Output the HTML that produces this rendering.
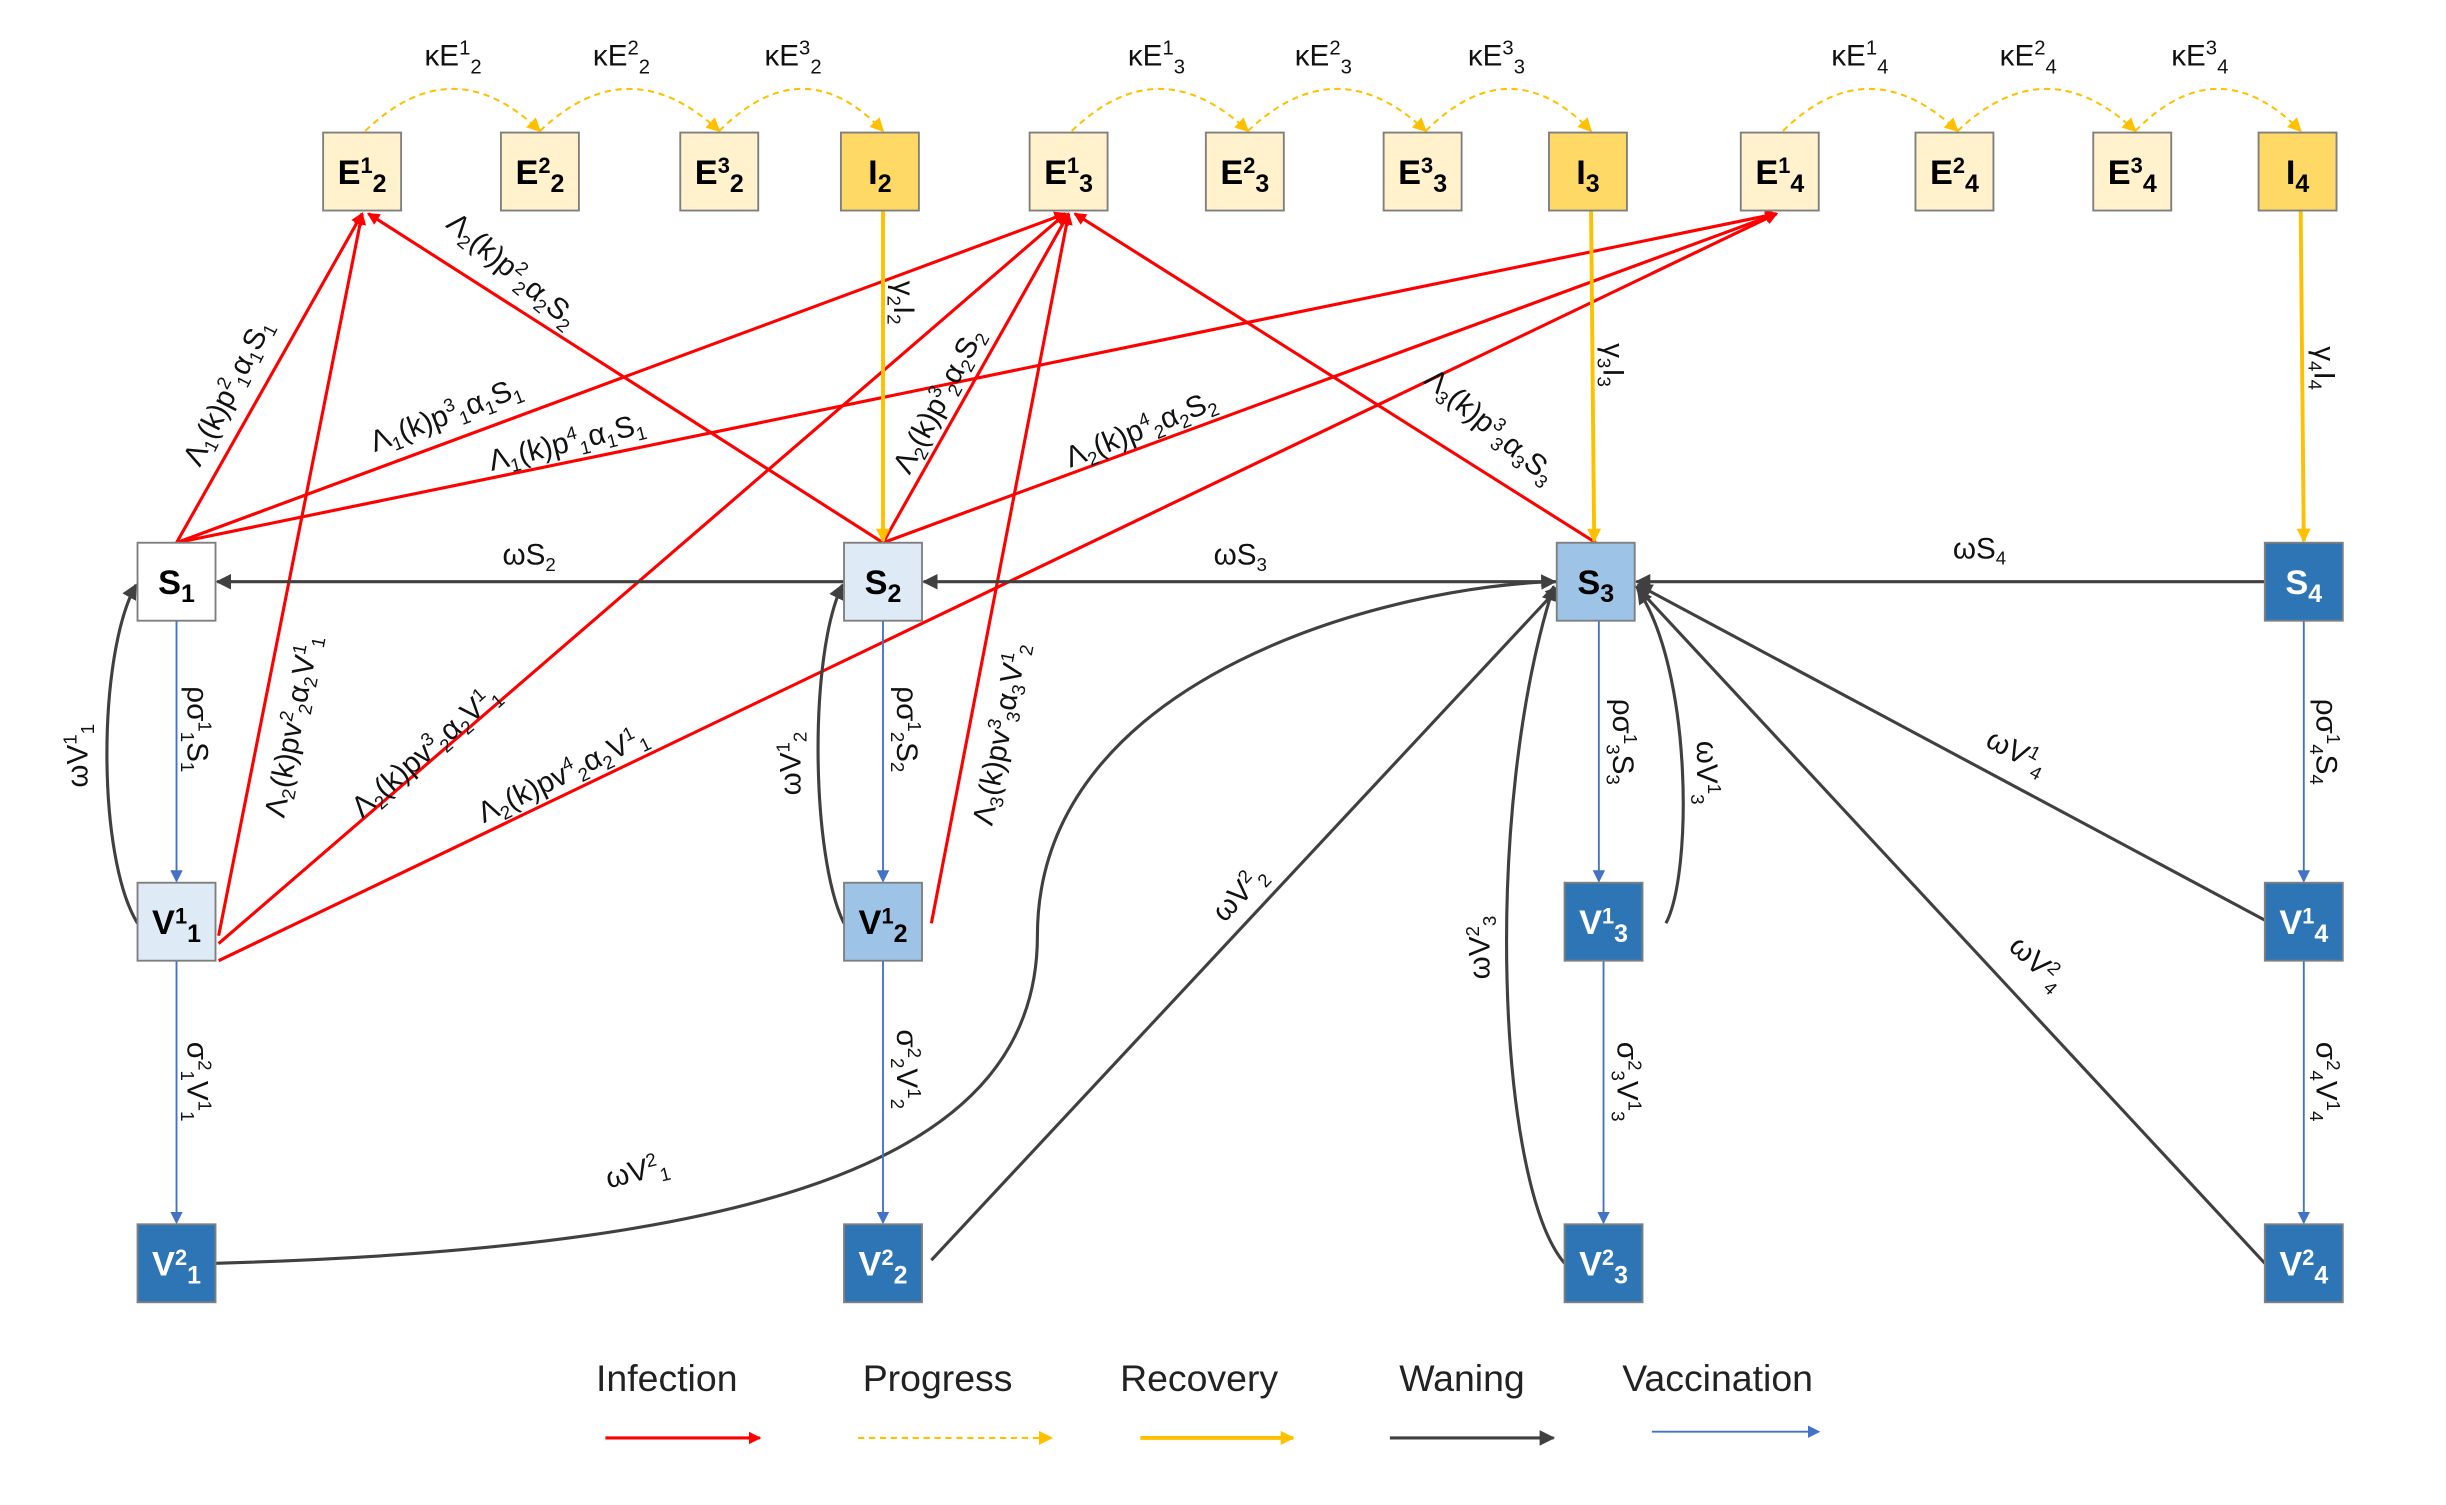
<!DOCTYPE html>
<html><head><meta charset="utf-8"><style>
html,body{margin:0;padding:0;background:#fff}
svg{display:block}
text{font-family:"Liberation Sans",sans-serif}
.bx{stroke:#7f7f7f;stroke-width:1.2}
.bl{font-weight:bold;font-size:22px}
.lab{font-size:19px;fill:#111}
</style></head><body>
<svg width="2446" height="1505" viewBox="0 0 1568 965" xmlns="http://www.w3.org/2000/svg">
<defs>
<marker id="ar" markerWidth="8" markerHeight="8" refX="7" refY="4" orient="auto" markerUnits="userSpaceOnUse" viewBox="0 0 8 8"><path d="M0,0 L8,4 L0,8 z" fill="#f00"/></marker>
<marker id="ay" markerWidth="9" markerHeight="9" refX="8" refY="4.5" orient="auto" markerUnits="userSpaceOnUse"><path d="M0,0 L9,4.5 L0,9 z" fill="#ffc000"/></marker>
<marker id="ag" markerWidth="10" markerHeight="10" refX="9" refY="5" orient="auto" markerUnits="userSpaceOnUse"><path d="M0,0 L10,5 L0,10 z" fill="#404040"/></marker>
<marker id="ab" markerWidth="8" markerHeight="8" refX="7" refY="4" orient="auto" markerUnits="userSpaceOnUse"><path d="M0,0 L8,4 L0,8 z" fill="#4472c4"/></marker>
</defs>

<g fill="none" stroke="#ffc000" stroke-width="1.3" stroke-dasharray="4,3" marker-end="url(#ay)">
<path d="M234,84 Q290,30 346,84"/><path d="M346,84 Q403,30 461,84"/><path d="M461,84 Q515,30 566,84"/>
<path d="M687,84 Q743,30 800,84"/><path d="M800,84 Q857,30 914,84"/><path d="M914,84 Q968,30 1020,84"/>
<path d="M1143,84 Q1198,30 1255,84"/><path d="M1255,84 Q1312,30 1369,84"/><path d="M1369,84 Q1422,30 1475,84"/>
</g>
<g class="lab">
<text x="272" y="42">κE<tspan dy="-7" font-size="13">1</tspan><tspan dy="12" font-size="13">2</tspan></text>
<text x="380" y="42">κE<tspan dy="-7" font-size="13">2</tspan><tspan dy="12" font-size="13">2</tspan></text>
<text x="490" y="42">κE<tspan dy="-7" font-size="13">3</tspan><tspan dy="12" font-size="13">2</tspan></text>
<text x="723" y="42">κE<tspan dy="-7" font-size="13">1</tspan><tspan dy="12" font-size="13">3</tspan></text>
<text x="830" y="42">κE<tspan dy="-7" font-size="13">2</tspan><tspan dy="12" font-size="13">3</tspan></text>
<text x="941" y="42">κE<tspan dy="-7" font-size="13">3</tspan><tspan dy="12" font-size="13">3</tspan></text>
<text x="1174" y="42">κE<tspan dy="-7" font-size="13">1</tspan><tspan dy="12" font-size="13">4</tspan></text>
<text x="1282" y="42">κE<tspan dy="-7" font-size="13">2</tspan><tspan dy="12" font-size="13">4</tspan></text>
<text x="1392" y="42">κE<tspan dy="-7" font-size="13">3</tspan><tspan dy="12" font-size="13">4</tspan></text>
</g>

<g stroke="#f00" stroke-width="2" fill="none" marker-end="url(#ar)">
<line x1="113" y1="348" x2="232" y2="137"/>
<line x1="113" y1="348" x2="683" y2="137"/>
<line x1="113" y1="348" x2="1139" y2="137"/>
<line x1="566" y1="348" x2="236" y2="137"/>
<line x1="566" y1="348" x2="685" y2="137"/>
<line x1="566" y1="348" x2="1139" y2="137"/>
<line x1="1023" y1="348" x2="689" y2="137"/>
<line x1="140" y1="600" x2="232" y2="137"/>
<line x1="140" y1="605" x2="683" y2="137"/>
<line x1="140" y1="616" x2="1139" y2="137"/>
<line x1="597" y1="592" x2="685" y2="137"/>
</g>

<g stroke="#ffc000" stroke-width="2.5" marker-end="url(#ay)">
<line x1="566" y1="135" x2="566" y2="347"/>
<line x1="1020" y1="135" x2="1022" y2="347"/>
<line x1="1475" y1="135" x2="1477" y2="347"/>
</g>

<g stroke="#404040" stroke-width="2" fill="none" marker-end="url(#ag)">
<line x1="541" y1="373" x2="139" y2="373"/>
<line x1="998" y1="373" x2="592" y2="373"/>
<line x1="1452" y1="373" x2="1049" y2="373"/>
<path d="M88,592 C62,550 62,420 87,375"/>
<path d="M541,592 C520,550 518,420 540,375"/>
<path d="M138,810 C500,800 665,740 665,600 C665,430 900,375 997,373"/>
<line x1="597" y1="808" x2="1000" y2="376"/>
<path d="M1003,810 C960,760 950,520 996,376"/>
<path d="M1068,592 C1085,560 1085,430 1050,378"/>
<line x1="1452" y1="590" x2="1050" y2="375"/>
<line x1="1452" y1="810" x2="1049" y2="376"/>
</g>

<g stroke="#4472c4" stroke-width="1.2" marker-end="url(#ab)">
<line x1="113" y1="398" x2="113" y2="565"/>
<line x1="113" y1="616" x2="113" y2="784"/>
<line x1="566" y1="398" x2="566" y2="565"/>
<line x1="566" y1="616" x2="566" y2="784"/>
<line x1="1025" y1="398" x2="1025" y2="565"/>
<line x1="1028" y1="616" x2="1028" y2="784"/>
<line x1="1477" y1="398" x2="1477" y2="565"/>
<line x1="1477" y1="616" x2="1477" y2="784"/>
</g>

<g class="bx">
<rect x="207" y="85" width="50" height="50" fill="#fff2cc"/>
<rect x="321" y="85" width="50" height="50" fill="#fff2cc"/>
<rect x="436" y="85" width="50" height="50" fill="#fff2cc"/>
<rect x="539" y="85" width="50" height="50" fill="#ffd966"/>
<rect x="660" y="85" width="50" height="50" fill="#fff2cc"/>
<rect x="773" y="85" width="50" height="50" fill="#fff2cc"/>
<rect x="887" y="85" width="50" height="50" fill="#fff2cc"/>
<rect x="993" y="85" width="50" height="50" fill="#ffd966"/>
<rect x="1116" y="85" width="50" height="50" fill="#fff2cc"/>
<rect x="1228" y="85" width="50" height="50" fill="#fff2cc"/>
<rect x="1342" y="85" width="50" height="50" fill="#fff2cc"/>
<rect x="1448" y="85" width="50" height="50" fill="#ffd966"/>
<rect x="88" y="348" width="50" height="50" fill="#fff"/>
<rect x="541" y="348" width="50" height="50" fill="#deebf7"/>
<rect x="998" y="348" width="50" height="50" fill="#9dc3e6"/>
<rect x="1452" y="348" width="50" height="50" fill="#2e75b6"/>
<rect x="88" y="566" width="50" height="50" fill="#deebf7"/>
<rect x="541" y="566" width="50" height="50" fill="#9dc3e6"/>
<rect x="1003" y="566" width="50" height="50" fill="#2e75b6"/>
<rect x="1452" y="566" width="50" height="50" fill="#2e75b6"/>
<rect x="88" y="785" width="50" height="50" fill="#2e75b6"/>
<rect x="541" y="785" width="50" height="50" fill="#2e75b6"/>
<rect x="1003" y="785" width="50" height="50" fill="#2e75b6"/>
<rect x="1452" y="785" width="50" height="50" fill="#2e75b6"/>
</g>
<g class="bl" text-anchor="middle">
<text x="232" y="118">E<tspan dy="-7" font-size="14">1</tspan><tspan dy="12" font-size="16">2</tspan></text>
<text x="346" y="118">E<tspan dy="-7" font-size="14">2</tspan><tspan dy="12" font-size="16">2</tspan></text>
<text x="461" y="118">E<tspan dy="-7" font-size="14">3</tspan><tspan dy="12" font-size="16">2</tspan></text>
<text x="564" y="118">I<tspan dy="5" font-size="16">2</tspan></text>
<text x="685" y="118">E<tspan dy="-7" font-size="14">1</tspan><tspan dy="12" font-size="16">3</tspan></text>
<text x="798" y="118">E<tspan dy="-7" font-size="14">2</tspan><tspan dy="12" font-size="16">3</tspan></text>
<text x="912" y="118">E<tspan dy="-7" font-size="14">3</tspan><tspan dy="12" font-size="16">3</tspan></text>
<text x="1018" y="118">I<tspan dy="5" font-size="16">3</tspan></text>
<text x="1141" y="118">E<tspan dy="-7" font-size="14">1</tspan><tspan dy="12" font-size="16">4</tspan></text>
<text x="1253" y="118">E<tspan dy="-7" font-size="14">2</tspan><tspan dy="12" font-size="16">4</tspan></text>
<text x="1367" y="118">E<tspan dy="-7" font-size="14">3</tspan><tspan dy="12" font-size="16">4</tspan></text>
<text x="1473" y="118">I<tspan dy="5" font-size="16">4</tspan></text>
<text x="113" y="381">S<tspan dy="5" font-size="16">1</tspan></text>
<text x="566" y="381">S<tspan dy="5" font-size="16">2</tspan></text>
<text x="1023" y="381">S<tspan dy="5" font-size="16">3</tspan></text>
<text x="1477" y="381" fill="#fff">S<tspan dy="5" font-size="16">4</tspan></text>
<text x="113" y="599">V<tspan dy="-7" font-size="14">1</tspan><tspan dy="12" font-size="16">1</tspan></text>
<text x="566" y="599">V<tspan dy="-7" font-size="14">1</tspan><tspan dy="12" font-size="16">2</tspan></text>
<text x="1028" y="599" fill="#fff">V<tspan dy="-7" font-size="14">1</tspan><tspan dy="12" font-size="16">3</tspan></text>
<text x="1477" y="599" fill="#fff">V<tspan dy="-7" font-size="14">1</tspan><tspan dy="12" font-size="16">4</tspan></text>
<text x="113" y="818" fill="#fff">V<tspan dy="-7" font-size="14">2</tspan><tspan dy="12" font-size="16">1</tspan></text>
<text x="566" y="818" fill="#fff">V<tspan dy="-7" font-size="14">2</tspan><tspan dy="12" font-size="16">2</tspan></text>
<text x="1028" y="818" fill="#fff">V<tspan dy="-7" font-size="14">2</tspan><tspan dy="12" font-size="16">3</tspan></text>
<text x="1477" y="818" fill="#fff">V<tspan dy="-7" font-size="14">2</tspan><tspan dy="12" font-size="16">4</tspan></text>
</g>

<g class="lab">
<text transform="translate(128,300) rotate(-63)">Λ<tspan font-size="12" dy="4">1</tspan><tspan dy="-4">(k)p</tspan><tspan font-size="12" dy="-7">2</tspan><tspan font-size="12" dy="11">1</tspan><tspan dy="-4">α</tspan><tspan font-size="12" dy="4">1</tspan><tspan dy="-4">S</tspan><tspan font-size="12" dy="4">1</tspan></text>
<text transform="translate(285,145) rotate(40)">Λ<tspan font-size="12" dy="4">2</tspan><tspan dy="-4">(k)p</tspan><tspan font-size="12" dy="-7">2</tspan><tspan font-size="12" dy="11">2</tspan><tspan dy="-4">α</tspan><tspan font-size="12" dy="4">2</tspan><tspan dy="-4">S</tspan><tspan font-size="12" dy="4">2</tspan></text>
<text transform="translate(240,290) rotate(-21)">Λ<tspan font-size="12" dy="4">1</tspan><tspan dy="-4">(k)p</tspan><tspan font-size="12" dy="-7">3</tspan><tspan font-size="12" dy="11">1</tspan><tspan dy="-4">α</tspan><tspan font-size="12" dy="4">1</tspan><tspan dy="-4">S</tspan><tspan font-size="12" dy="4">1</tspan></text>
<text transform="translate(315,302) rotate(-14)">Λ<tspan font-size="12" dy="4">1</tspan><tspan dy="-4">(k)p</tspan><tspan font-size="12" dy="-7">4</tspan><tspan font-size="12" dy="11">1</tspan><tspan dy="-4">α</tspan><tspan font-size="12" dy="4">1</tspan><tspan dy="-4">S</tspan><tspan font-size="12" dy="4">1</tspan></text>
<text transform="translate(583,305) rotate(-62)">Λ<tspan font-size="12" dy="4">2</tspan><tspan dy="-4">(k)p</tspan><tspan font-size="12" dy="-7">3</tspan><tspan font-size="12" dy="11">2</tspan><tspan dy="-4">α</tspan><tspan font-size="12" dy="4">2</tspan><tspan dy="-4">S</tspan><tspan font-size="12" dy="4">2</tspan></text>
<text transform="translate(686,300) rotate(-22)">Λ<tspan font-size="12" dy="4">2</tspan><tspan dy="-4">(k)p</tspan><tspan font-size="12" dy="-7">4</tspan><tspan font-size="12" dy="11">2</tspan><tspan dy="-4">α</tspan><tspan font-size="12" dy="4">2</tspan><tspan dy="-4">S</tspan><tspan font-size="12" dy="4">2</tspan></text>
<text transform="translate(912,245) rotate(40)">Λ<tspan font-size="12" dy="4">3</tspan><tspan dy="-4">(k)p</tspan><tspan font-size="12" dy="-7">3</tspan><tspan font-size="12" dy="11">3</tspan><tspan dy="-4">α</tspan><tspan font-size="12" dy="4">3</tspan><tspan dy="-4">S</tspan><tspan font-size="12" dy="4">3</tspan></text>
<text transform="translate(182,525) rotate(-79)">Λ<tspan font-size="12" dy="4">2</tspan><tspan dy="-4">(k)pv</tspan><tspan font-size="12" dy="-7">2</tspan><tspan font-size="12" dy="11">2</tspan><tspan dy="-4">α</tspan><tspan font-size="12" dy="4">2</tspan><tspan dy="-4">V</tspan><tspan font-size="12" dy="-7">1</tspan><tspan font-size="12" dy="11">1</tspan></text>
<text transform="translate(232,525) rotate(-41)">Λ<tspan font-size="12" dy="4">2</tspan><tspan dy="-4">(k)pv</tspan><tspan font-size="12" dy="-7">3</tspan><tspan font-size="12" dy="11">2</tspan><tspan dy="-4">α</tspan><tspan font-size="12" dy="4">2</tspan><tspan dy="-4">V</tspan><tspan font-size="12" dy="-7">1</tspan><tspan font-size="12" dy="11">1</tspan></text>
<text transform="translate(310,528) rotate(-26)">Λ<tspan font-size="12" dy="4">2</tspan><tspan dy="-4">(k)pv</tspan><tspan font-size="12" dy="-7">4</tspan><tspan font-size="12" dy="11">2</tspan><tspan dy="-4">α</tspan><tspan font-size="12" dy="4">2</tspan><tspan dy="-4">V</tspan><tspan font-size="12" dy="-7">1</tspan><tspan font-size="12" dy="11">1</tspan></text>
<text transform="translate(636,530) rotate(-79)">Λ<tspan font-size="12" dy="4">3</tspan><tspan dy="-4">(k)pv</tspan><tspan font-size="12" dy="-7">3</tspan><tspan font-size="12" dy="11">3</tspan><tspan dy="-4">α</tspan><tspan font-size="12" dy="4">3</tspan><tspan dy="-4">V</tspan><tspan font-size="12" dy="-7">1</tspan><tspan font-size="12" dy="11">2</tspan></text>
<text transform="translate(573,180) rotate(90)">γ<tspan font-size="12" dy="4">2</tspan><tspan dy="-4">I</tspan><tspan font-size="12" dy="4">2</tspan></text>
<text transform="translate(1028,220) rotate(90)">γ<tspan font-size="12" dy="4">3</tspan><tspan dy="-4">I</tspan><tspan font-size="12" dy="4">3</tspan></text>
<text transform="translate(1484,222) rotate(90)">γ<tspan font-size="12" dy="4">4</tspan><tspan dy="-4">I</tspan><tspan font-size="12" dy="4">4</tspan></text>
<text x="322" y="362">ωS<tspan font-size="12" dy="4">2</tspan></text>
<text x="778" y="362">ωS<tspan font-size="12" dy="4">3</tspan></text>
<text x="1252" y="358">ωS<tspan font-size="12" dy="4">4</tspan></text>
<text transform="translate(120,440) rotate(90)">ρσ<tspan font-size="12" dy="-7">1</tspan><tspan font-size="12" dy="11">1</tspan><tspan dy="-4">S</tspan><tspan font-size="12" dy="4">1</tspan></text>
<text transform="translate(575,440) rotate(90)">ρσ<tspan font-size="12" dy="-7">1</tspan><tspan font-size="12" dy="11">2</tspan><tspan dy="-4">S</tspan><tspan font-size="12" dy="4">2</tspan></text>
<text transform="translate(1034,448) rotate(90)">ρσ<tspan font-size="12" dy="-7">1</tspan><tspan font-size="12" dy="11">3</tspan><tspan dy="-4">S</tspan><tspan font-size="12" dy="4">3</tspan></text>
<text transform="translate(1485,448) rotate(90)">ρσ<tspan font-size="12" dy="-7">1</tspan><tspan font-size="12" dy="11">4</tspan><tspan dy="-4">S</tspan><tspan font-size="12" dy="4">4</tspan></text>
<text transform="translate(120,668) rotate(90)">σ<tspan font-size="12" dy="-7">2</tspan><tspan font-size="12" dy="11">1</tspan><tspan dy="-4">V</tspan><tspan font-size="12" dy="-7">1</tspan><tspan font-size="12" dy="11">1</tspan></text>
<text transform="translate(575,660) rotate(90)">σ<tspan font-size="12" dy="-7">2</tspan><tspan font-size="12" dy="11">2</tspan><tspan dy="-4">V</tspan><tspan font-size="12" dy="-7">1</tspan><tspan font-size="12" dy="11">2</tspan></text>
<text transform="translate(1037,668) rotate(90)">σ<tspan font-size="12" dy="-7">2</tspan><tspan font-size="12" dy="11">3</tspan><tspan dy="-4">V</tspan><tspan font-size="12" dy="-7">1</tspan><tspan font-size="12" dy="11">3</tspan></text>
<text transform="translate(1485,668) rotate(90)">σ<tspan font-size="12" dy="-7">2</tspan><tspan font-size="12" dy="11">4</tspan><tspan dy="-4">V</tspan><tspan font-size="12" dy="-7">1</tspan><tspan font-size="12" dy="11">4</tspan></text>
<text transform="translate(56,505) rotate(-90)">ωV<tspan font-size="12" dy="-7">1</tspan><tspan font-size="12" dy="11">1</tspan></text>
<text transform="translate(513,510) rotate(-90)">ωV<tspan font-size="12" dy="-7">1</tspan><tspan font-size="12" dy="11">2</tspan></text>
<text transform="translate(1088,475) rotate(90)">ωV<tspan font-size="12" dy="-7">1</tspan><tspan font-size="12" dy="11">3</tspan></text>
<text transform="translate(955,628) rotate(-90)">ωV<tspan font-size="12" dy="-7">2</tspan><tspan font-size="12" dy="11">3</tspan></text>
<text transform="translate(785,592) rotate(-47)">ωV<tspan font-size="12" dy="-7">2</tspan><tspan font-size="12" dy="11">2</tspan></text>
<text transform="translate(390,762) rotate(-14)">ωV<tspan font-size="12" dy="-7">2</tspan><tspan font-size="12" dy="11">1</tspan></text>
<text transform="translate(1272,478) rotate(28)">ωV<tspan font-size="12" dy="-7">1</tspan><tspan font-size="12" dy="11">4</tspan></text>
<text transform="translate(1287,608) rotate(43)">ωV<tspan font-size="12" dy="-7">2</tspan><tspan font-size="12" dy="11">4</tspan></text>
</g>

<g font-size="24" fill="#222">
<text x="382" y="892">Infection</text>
<text x="553" y="892">Progress</text>
<text x="718" y="892">Recovery</text>
<text x="897" y="892">Waning</text>
<text x="1040" y="892">Vaccination</text>
</g>
<line x1="388" y1="922" x2="487" y2="922" stroke="#f00" stroke-width="2" marker-end="url(#ar)"/>
<line x1="550" y1="922" x2="674" y2="922" stroke="#ffc000" stroke-width="1.3" stroke-dasharray="4,3" marker-end="url(#ay)"/>
<line x1="731" y1="922" x2="829" y2="922" stroke="#ffc000" stroke-width="2.5" marker-end="url(#ay)"/>
<line x1="891" y1="922" x2="996" y2="922" stroke="#404040" stroke-width="2" marker-end="url(#ag)"/>
<line x1="1059" y1="918" x2="1166" y2="918" stroke="#4472c4" stroke-width="1.2" marker-end="url(#ab)"/>
</svg>
</body></html>
